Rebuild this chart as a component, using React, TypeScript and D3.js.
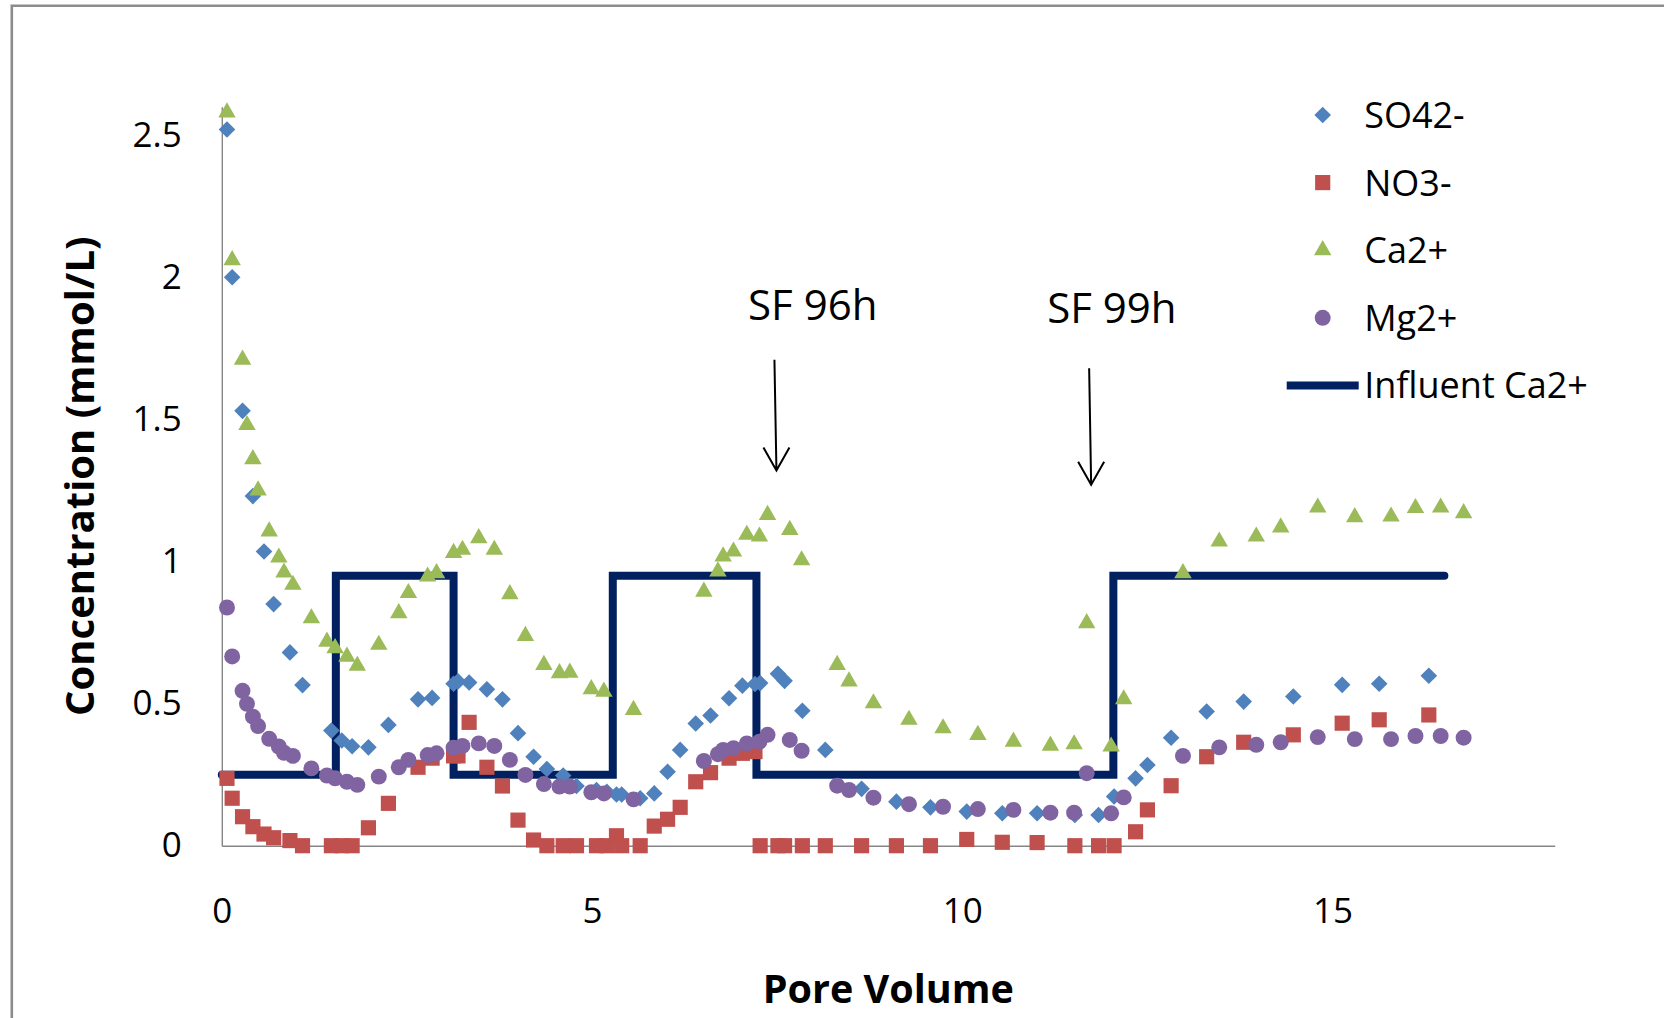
import * as d3 from "d3"
import { useEffect, useRef } from "react"

// pore volumes at which anions (SO4, NO3) and cations (Ca, Mg) were sampled
const anionPV = [
  0.07, 0.14, 0.28, 0.42, 0.57, 0.7, 0.92, 1.09, 1.48, 1.62,
  1.76, 1.98, 2.25, 2.65, 2.84, 3.13, 3.19, 3.34, 3.58, 3.79,
  4.0, 4.21, 4.39, 4.61, 4.79, 5.06, 5.2, 5.33, 5.4, 5.65,
  5.84, 6.02, 6.19, 6.4, 6.6, 6.85, 7.03, 7.2, 7.27, 7.51,
  7.6, 7.84, 8.15, 8.64, 9.11, 9.57, 10.06, 10.54, 11.01, 11.52,
  11.84, 12.05, 12.34, 12.5, 12.82, 13.3, 13.8, 14.47, 15.13, 15.63, 16.3,
]
const so4 = [
  2.52, 2.0, 1.53, 1.23, 1.035, 0.85, 0.68, 0.565, 0.405, 0.37,
  0.35, 0.346, 0.425, 0.515, 0.52, 0.57, 0.578, 0.574, 0.55, 0.515,
  0.396, 0.313, 0.27, 0.247, 0.21, 0.196, 0.19, 0.18, 0.18, 0.167,
  0.184, 0.26, 0.337, 0.43, 0.458, 0.519, 0.563, 0.569, 0.572, 0.605,
  0.58, 0.475, 0.337, 0.2, 0.155, 0.135, 0.12, 0.114, 0.114, 0.108,
  0.108, 0.173, 0.237, 0.284, 0.38, 0.472, 0.507, 0.525, 0.566, 0.57, 0.598,
]
const no3 = [
  0.237, 0.167, 0.102, 0.067, 0.041, 0.028, 0.018, 0, 0, 0,
  0, 0.063, 0.149, 0.276, 0.308, 0.316, 0.316, 0.434, 0.276, 0.21,
  0.09, 0.02, 0, 0, 0, 0, 0, 0.035, 0, 0,
  0.069, 0.093, 0.135, 0.225, 0.257, 0.308, 0.325, 0.331, 0, 0,
  0, 0, 0, 0, 0, 0, 0.022, 0.012, 0.011, 0,
  0, 0, 0.049, 0.126, 0.211, 0.313, 0.364, 0.39, 0.431, 0.443, 0.46,
]

const cationPV = [
  0.07, 0.14, 0.28, 0.34, 0.42, 0.49, 0.64, 0.77, 0.84, 0.96,
  1.21, 1.42, 1.53, 1.69, 1.83, 2.12, 2.39, 2.52, 2.78, 2.9,
  3.13, 3.25, 3.47, 3.68, 3.89, 4.1, 4.35, 4.56, 4.7, 4.99,
  5.16, 5.56, 6.51, 6.7, 6.77, 6.91, 7.09, 7.26, 7.37, 7.67,
  7.83, 8.31, 8.47, 8.8, 9.28, 9.74, 10.21, 10.69, 11.19, 11.51,
  11.68, 12.01, 12.18, 12.98, 13.47, 13.97, 14.3, 14.8, 15.3, 15.79,
  16.12, 16.46, 16.77,
]
const ca = [
  2.58, 2.06, 1.71, 1.48, 1.36, 1.25, 1.106, 1.014, 0.961, 0.918,
  0.8, 0.718, 0.695, 0.665, 0.633, 0.707, 0.818, 0.889, 0.947, 0.959,
  1.03, 1.041, 1.082, 1.041, 0.885, 0.738, 0.636, 0.607, 0.609, 0.551,
  0.542, 0.478, 0.894, 0.965, 1.018, 1.035, 1.094, 1.088, 1.164, 1.111,
  1.004, 0.636, 0.578, 0.501, 0.443, 0.413, 0.39, 0.366, 0.352, 0.357,
  0.783, 0.349, 0.515, 0.959, 1.07, 1.088, 1.12, 1.19, 1.156, 1.158,
  1.188, 1.19, 1.17,
]
const mg = [
  0.838, 0.666, 0.545, 0.499, 0.454, 0.421, 0.376, 0.349, 0.327, 0.316,
  0.272, 0.247, 0.237, 0.225, 0.214, 0.243, 0.276, 0.302, 0.319, 0.325,
  0.345, 0.351, 0.36, 0.351, 0.302, 0.249, 0.217, 0.208, 0.208, 0.188,
  0.184, 0.163, 0.298, 0.322, 0.337, 0.343, 0.36, 0.366, 0.39, 0.372,
  0.334, 0.211, 0.196, 0.169, 0.146, 0.137, 0.129, 0.126, 0.116, 0.116,
  0.255, 0.114, 0.17, 0.316, 0.346, 0.355, 0.364, 0.382, 0.375, 0.375,
  0.386, 0.386, 0.38,
]

// influent Ca2+ steps (value holds until the next pore volume)
const influentPV = [0, 1.54, 3.13, 5.28, 7.22, 12.04, 16.51]
const influent = [0.25, 0.95, 0.25, 0.95, 0.25, 0.95, 0.95]

const xTicks = [0, 5, 10, 15]
const yTicks = [0, 0.5, 1, 1.5, 2, 2.5]

const annotations = [
  { label: "SF 96h", textPV: 7.98, textC: 1.849, arrowPV: 7.49, top: 1.71, tip: 1.32 },
  { label: "SF 99h", textPV: 12.02, textC: 1.838, arrowPV: 11.74, top: 1.68, tip: 1.27 },
]

const FONT = "'Open Sans', 'Noto Sans', sans-serif"

type Series = {
  name: string
  pv: number[]
  values: number[]
  color: string
  symbol: d3.SymbolType
  size: number
  rotate: number
}

const SERIES: Series[] = [
  { name: "SO42-", pv: anionPV, values: so4, color: "#4F81BD", symbol: d3.symbolSquare, size: 138, rotate: 45 },
  { name: "NO3-", pv: anionPV, values: no3, color: "#C0504D", symbol: d3.symbolSquare, size: 230, rotate: 0 },
  { name: "Ca2+", pv: cationPV, values: ca, color: "#9BBB59", symbol: d3.symbolTriangle, size: 132, rotate: 0 },
  { name: "Mg2+", pv: cationPV, values: mg, color: "#8064A2", symbol: d3.symbolCircle, size: 200, rotate: 0 },
]

export default function App() {
  const ref = useRef<SVGSVGElement | null>(null)

  useEffect(() => {
    if (!ref.current) return
    const width = 1664
    const height = 1018
    const svg = d3.select(ref.current)
    svg.selectAll("*").remove()
    svg.attr("viewBox", `0 0 ${width} ${height}`)

    const x = d3.scaleLinear().domain([0, 18]).range([221.8, 1554.7])
    const y = d3.scaleLinear().domain([0, 2.6]).range([845.7, 106.7])

    svg.append("rect").attr("width", width).attr("height", height).attr("fill", "#fff")

    // chart frame
    svg
      .append("path")
      .attr("d", `M11.8,${height} V5.8 H${width}`)
      .attr("fill", "none")
      .attr("stroke", "#8c8c8c")
      .attr("stroke-width", 2.6)

    svg
      .append("g")
      .attr("transform", `translate(0,${y(0)})`)
      .call(d3.axisBottom(x).tickValues(xTicks).tickSize(0).tickSizeOuter(0).tickPadding(52))
      .call((g) => g.select(".domain").attr("stroke", "#868686").attr("stroke-width", 1.4))
      .call((g) =>
        g.selectAll("text").attr("fill", "#000").attr("font-size", 35).attr("font-family", FONT)
      )

    svg
      .append("g")
      .attr("transform", `translate(${x(0)},0)`)
      .call(
        d3.axisLeft(y).tickValues(yTicks).tickSize(0).tickSizeOuter(0).tickPadding(40).tickFormat(d3.format("~g"))
      )
      .call((g) => g.select(".domain").attr("stroke", "#868686").attr("stroke-width", 1.4))
      .call((g) =>
        g.selectAll("text").attr("fill", "#000").attr("font-size", 35).attr("font-family", FONT)
      )

    // influent step line sits behind the markers
    const line = d3
      .line<number>()
      .x((_, i) => x(influentPV[i]))
      .y((d) => y(d))
      .curve(d3.curveStepAfter)
    svg
      .append("path")
      .attr("d", line(influent))
      .attr("fill", "none")
      .attr("stroke", "#002060")
      .attr("stroke-width", 8)
      .attr("stroke-linejoin", "miter")
      .attr("stroke-linecap", "round")

    SERIES.forEach((s) => {
      const path = d3.symbol(s.symbol, s.size)()
      svg
        .append("g")
        .selectAll("path")
        .data(s.values)
        .join("path")
        .attr("d", path)
        .attr("fill", s.color)
        .attr("transform", (d, i) => `translate(${x(s.pv[i])},${y(d)}) rotate(${s.rotate})`)
    })

    // SF annotations
    const ann = svg.append("g")
    annotations.forEach((a) => {
      const ax = x(a.arrowPV)
      const y0 = y(a.top)
      const y1 = y(a.tip)
      ann
        .append("path")
        .attr("d", `M${ax - 2},${y0} L${ax},${y1} M${ax - 13},${y1 - 23} L${ax},${y1} L${ax + 13},${y1 - 23}`)
        .attr("fill", "none")
        .attr("stroke", "#000")
        .attr("stroke-width", 2)
      ann
        .append("text")
        .attr("x", x(a.textPV))
        .attr("y", y(a.textC))
        .attr("text-anchor", "middle")
        .attr("font-family", FONT)
        .attr("font-size", 42)
        .text(a.label)
    })

    // axis titles
    svg
      .append("text")
      .attr("x", (x(0) + x(18)) / 2)
      .attr("y", 1002.7)
      .attr("text-anchor", "middle")
      .attr("font-family", FONT)
      .attr("font-weight", "bold")
      .attr("font-size", 39.5)
      .text("Pore Volume")
    svg
      .append("text")
      .attr("transform", `translate(79.6,${(y(0) + y(2.6)) / 2}) rotate(-90)`)
      .attr("dy", "0.36em")
      .attr("text-anchor", "middle")
      .attr("font-family", FONT)
      .attr("font-weight", "bold")
      .attr("font-size", 40)
      .text("Concentration (mmol/L)")

    // legend
    const legend = svg.append("g").attr("transform", "translate(1322.7,115)")
    const rowH = 67.6
    SERIES.forEach((s, i) => {
      legend
        .append("path")
        .attr("d", d3.symbol(s.symbol, s.size)())
        .attr("fill", s.color)
        .attr("transform", `translate(0,${i * rowH}) rotate(${s.rotate})`)
      legend
        .append("text")
        .attr("x", 41.5)
        .attr("y", i * rowH)
        .attr("dy", "0.36em")
        .attr("font-family", FONT)
        .attr("font-size", 36)
        .text(s.name)
    })
    const ly = SERIES.length * rowH
    legend
      .append("line")
      .attr("x1", -36)
      .attr("x2", 36)
      .attr("y1", ly)
      .attr("y2", ly)
      .attr("stroke", "#002060")
      .attr("stroke-width", 8)
    legend
      .append("text")
      .attr("x", 41.5)
      .attr("y", ly)
      .attr("dy", "0.36em")
      .attr("font-family", FONT)
      .attr("font-size", 36)
      .text("Influent Ca2+")
  }, [])

  return (
    <svg
      ref={ref}
      width={1664}
      height={1018}
      style={{ position: "absolute", left: 0, top: 0, display: "block" }}
    />
  )
}
